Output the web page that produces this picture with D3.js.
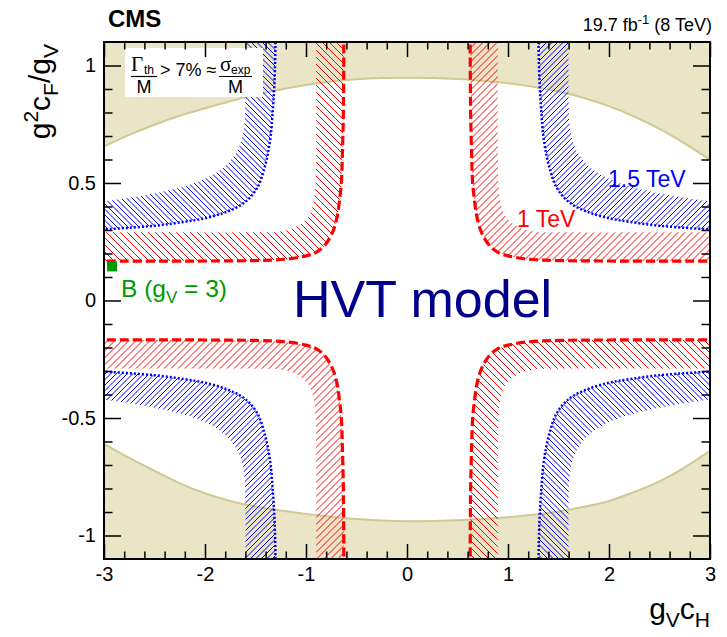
<!DOCTYPE html>
<html><head><meta charset="utf-8">
<script src="https://cdn.jsdelivr.net/npm/d3@7"></script>
<style>
body{margin:0;background:#fff}
svg{display:block}
text{font-family:"Liberation Sans",Arial,Helvetica,sans-serif}
</style>
</head><body><div id="chart"></div>
<script>
// ---------- data ----------
const xTicks=[-3,-2,-1,0,1,2,3];
const xTickLabels=["-3","-2","-1","0","1","2","3"];
const yTicks=[-1,-0.5,0,0.5,1];
const yTickLabels=["-1","-0.5","0","0.5","1"];

// Γ/M > 7% regions: boundary curves (gV cH, g^2 cF/gV)
const widthTop=[[-3.0,0.656],[-2.75,0.705],[-2.5,0.748],[-2.25,0.786],[-2.0,0.818],[-1.75,0.848],[-1.5,0.875],[-1.25,0.898],[-1.0,0.917],[-0.75,0.932],[-0.5,0.942],[-0.25,0.947],[0,0.948],[0.25,0.947],[0.5,0.943],[0.75,0.935],[1.0,0.924],[1.25,0.909],[1.5,0.889],[1.75,0.862],[2.0,0.827],[2.25,0.783],[2.5,0.73],[2.75,0.668],[3.0,0.60]];
const widthBottom=[[-3.0,-0.61],[-2.75,-0.67],[-2.5,-0.725],[-2.25,-0.778],[-2.0,-0.82],[-1.75,-0.853],[-1.5,-0.877],[-1.25,-0.894],[-1.0,-0.908],[-0.75,-0.92],[-0.5,-0.93],[-0.25,-0.936],[0,-0.939],[0.25,-0.938],[0.5,-0.935],[0.75,-0.93],[1.0,-0.922],[1.25,-0.912],[1.5,-0.898],[1.75,-0.878],[2.0,-0.853],[2.25,-0.815],[2.5,-0.77],[2.75,-0.71],[3.0,-0.64]];

// exclusion bands, given as |gV cH|, |g^2 cF/gV| (same in every quadrant)
const band1TeVInner=[[3.1,0.168],[2.0,0.168],[1.5,0.17],[1.2,0.176],[1.0,0.19],[0.9,0.205],[0.82,0.232],[0.76,0.27],[0.72,0.31],[0.69,0.36],[0.67,0.42],[0.65,0.5],[0.64,0.62],[0.63,0.8],[0.625,1.15]];
const band1TeVOuter=[[3.1,0.29],[1.5,0.29],[1.3,0.292],[1.18,0.30],[1.08,0.318],[1.0,0.345],[0.95,0.38],[0.92,0.43],[0.905,0.5],[0.9,0.6],[0.9,1.15]];
const band15TeVInner=[[3.1,0.30],[2.5,0.318],[2.2,0.335],[2.0,0.35],[1.8,0.375],[1.65,0.405],[1.55,0.44],[1.47,0.49],[1.42,0.55],[1.38,0.62],[1.35,0.7],[1.33,0.8],[1.31,0.95],[1.30,1.15]];
const band15TeVOuter=[[3.1,0.415],[2.7,0.44],[2.4,0.465],[2.1,0.5],[1.9,0.54],[1.78,0.58],[1.69,0.63],[1.64,0.68],[1.61,0.75],[1.6,0.85],[1.6,1.15]];
const quadrants=[[-1,1],[1,1],[-1,-1],[1,-1]];
const pointB=[-2.92,0.145];

// ---------- setup ----------
const W=727,H=637;
const X0=104,X1=710,Y0=42,Y1=559;
const x=d3.scaleLinear().domain([-3,3]).range([X0,X1]);
const y=d3.scaleLinear().domain([-1.1,1.1]).range([Y1,Y0]);

const svg=d3.select("#chart").append("svg").attr("width",W).attr("height",H);
const defs=svg.append("defs");
defs.append("clipPath").attr("id","clip").append("rect")
  .attr("x",X0).attr("y",Y0).attr("width",X1-X0).attr("height",Y1-Y0);

const plot=svg.append("g").attr("clip-path","url(#clip)");
const line=d3.line().x(d=>x(d[0])).y(d=>y(d[1])).curve(d3.curveCatmullRom.alpha(0.5));

// khaki regions
const khaki="#e9e5c6";
plot.append("path").attr("d",line(widthTop)+"L"+x(3)+","+y(1.2)+"L"+x(-3)+","+y(1.2)+"Z").attr("fill",khaki);
plot.append("path").attr("d",line(widthBottom)+"L"+x(3)+","+y(-1.2)+"L"+x(-3)+","+y(-1.2)+"Z").attr("fill",khaki);
plot.append("path").attr("d",line(widthTop)).attr("fill","none").attr("stroke","#d0c994").attr("stroke-width",2);
plot.append("path").attr("d",line(widthBottom)).attr("fill","none").attr("stroke","#d0c994").attr("stroke-width",2);

// bands: hatched area between inner and outer contour, clipped explicit hatch lines
let clipId=0;
function drawBand(inner,outer,color,step,dash,w){
  quadrants.forEach(([sx,sy])=>{
    const inn=inner.map(p=>[sx*p[0],sy*p[1]]);
    const out=outer.map(p=>[sx*p[0],sy*p[1]]).reverse();
    const d=line(inn)+"L"+line(out).slice(1)+"Z";
    const id="band"+(clipId++);
    defs.append("clipPath").attr("id",id).append("path").attr("d",d);
    const pts=inn.concat(out).map(p=>[x(p[0]),y(p[1])]);
    const bx0=d3.min(pts,p=>p[0])-2,bx1=d3.max(pts,p=>p[0])+2;
    const by0=d3.min(pts,p=>p[1])-2,by1=d3.max(pts,p=>p[1])+2;
    const g=plot.append("g").attr("clip-path",`url(#${id})`);
    let path="";
    if(sx*sy>0){ // "/" lines: x+y=k
      const k0=Math.floor((bx0+by0)/step)*step+0.5;
      for(let k=k0;k<=bx1+by1;k+=step) path+=`M${k-by1},${by1}L${k-by0},${by0}`;
    } else {     // "\" lines: x-y=k
      const k0=Math.floor((bx0-by1)/step)*step;
      for(let k=k0;k<=bx1-by0;k+=step) path+=`M${k+by0},${by0}L${k+by1},${by1}`;
    }
    g.append("path").attr("d",path).attr("stroke",color).attr("stroke-width",1).attr("fill","none");
  });
  quadrants.forEach(([sx,sy])=>{
    const inn=inner.map(p=>[sx*p[0],sy*p[1]]);
    plot.append("path").attr("d",line(inn)).attr("fill","none")
      .attr("stroke",color).attr("stroke-width",w).attr("stroke-dasharray",dash);
  });
}
drawBand(band15TeVInner,band15TeVOuter,"#0000ff",5.5,"2,2",2.5);
drawBand(band1TeVInner,band1TeVOuter,"#ff0000",7,"9,4",3.2);

// benchmark B
svg.append("rect").attr("x",x(pointB[0])-5).attr("y",y(pointB[1])-5).attr("width",10).attr("height",10).attr("fill","#009a00");

// ---------- labels ----------
svg.append("text").attr("x",608).attr("y",187).attr("fill","#0000ff").style("font-size","23px").text("1.5 TeV");
svg.append("text").attr("x",517).attr("y",227).attr("fill","#ff0000").style("font-size","23px").text("1 TeV");
const bl=svg.append("text").attr("x",121).attr("y",297).attr("fill","#009a00").style("font-size","24.5px");
bl.append("tspan").text("B (g");
bl.append("tspan").attr("dy",6).style("font-size","17px").text("V");
bl.append("tspan").attr("dy",-6).text(" = 3)");
svg.append("text").attr("x",293).attr("y",317).attr("fill","#00008b").style("font-size","52px").text("HVT model");

// legend box
svg.append("rect").attr("x",125).attr("y",48).attr("width",138).attr("height",49).attr("fill","#fff");
const lg=svg.append("g");
lg.append("text").attr("x",131).attr("y",71).style("font-family","'Liberation Serif',serif").style("font-size","21px").text("Γ");
lg.append("text").attr("x",144).attr("y",74).style("font-size","12px").text("th");
lg.append("line").attr("x1",131).attr("x2",157).attr("y1",76.5).attr("y2",76.5).attr("stroke","#000").attr("stroke-width",1.2);
lg.append("text").attr("x",144).attr("y",93).attr("text-anchor","middle").style("font-size","18px").text("M");
lg.append("text").attr("x",160).attr("y",76).style("font-size","18px").text("> 7% ≈");
lg.append("text").attr("x",220).attr("y",71).style("font-family","'Liberation Serif',serif").style("font-size","21px").text("σ");
lg.append("text").attr("x",231).attr("y",74).style("font-size","12px").text("exp");
lg.append("line").attr("x1",219).attr("x2",252).attr("y1",76.5).attr("y2",76.5).attr("stroke","#000").attr("stroke-width",1.2);
lg.append("text").attr("x",235.5).attr("y",93).attr("text-anchor","middle").style("font-size","18px").text("M");

// ---------- axes ----------
function style(g){
  g.select(".domain").remove();
  g.selectAll("line").attr("stroke","#000").attr("stroke-width",1.5);
  g.selectAll("text").attr("fill","#000").style("font-size","20px").style("font-family","'Liberation Sans',Arial,sans-serif");
}
const xMinor=x.ticks(30).filter(v=>Math.abs(v-Math.round(v))>1e-6);
const yMinor=y.ticks(22).filter(v=>Math.abs(v*2-Math.round(v*2))>1e-6 && Math.abs(v)<1.09);

svg.append("g").attr("transform",`translate(0,${Y1})`)
  .call(d3.axisBottom(x).tickValues(xTicks).tickFormat((d,i)=>xTickLabels[i]).tickSize(-15).tickPadding(8)).call(style);
svg.append("g").attr("transform",`translate(0,${Y1})`)
  .call(d3.axisBottom(x).tickValues(xMinor).tickFormat("").tickSize(-7.5)).call(style);
svg.append("g").attr("transform",`translate(0,${Y0})`)
  .call(d3.axisTop(x).tickValues(xTicks).tickFormat("").tickSize(-15)).call(style);
svg.append("g").attr("transform",`translate(0,${Y0})`)
  .call(d3.axisTop(x).tickValues(xMinor).tickFormat("").tickSize(-7.5)).call(style);

svg.append("g").attr("transform",`translate(${X0},0)`)
  .call(d3.axisLeft(y).tickValues(yTicks).tickFormat((d,i)=>yTickLabels[i]).tickSize(-17).tickPadding(8)).call(style);
svg.append("g").attr("transform",`translate(${X0},0)`)
  .call(d3.axisLeft(y).tickValues(yMinor).tickFormat("").tickSize(-8.5)).call(style);
svg.append("g").attr("transform",`translate(${X1},0)`)
  .call(d3.axisRight(y).tickValues(yTicks).tickFormat("").tickSize(-17)).call(style);
svg.append("g").attr("transform",`translate(${X1},0)`)
  .call(d3.axisRight(y).tickValues(yMinor).tickFormat("").tickSize(-8.5)).call(style);

svg.append("rect").attr("x",X0).attr("y",Y0).attr("width",X1-X0).attr("height",Y1-Y0)
  .attr("fill","none").attr("stroke","#000").attr("stroke-width",2);

// titles
const xt=svg.append("text").attr("x",710).attr("y",619).attr("text-anchor","end").style("font-size","30px");
xt.append("tspan").text("g");
xt.append("tspan").attr("dy",8).style("font-size","21px").text("V");
xt.append("tspan").attr("dy",-8).text("c");
xt.append("tspan").attr("dy",8).style("font-size","21px").text("H");

const yt=svg.append("text").attr("transform","translate(50,44) rotate(-90)").attr("text-anchor","end").style("font-size","30px");
yt.append("tspan").text("g");
yt.append("tspan").attr("dy",-12).style("font-size","21px").text("2");
yt.append("tspan").attr("dy",12).text("c");
yt.append("tspan").attr("dy",8).style("font-size","21px").text("F");
yt.append("tspan").attr("dy",-8).text("/g");
yt.append("tspan").attr("dy",8).style("font-size","21px").text("V");

svg.append("text").attr("x",108).attr("y",27).style("font-size","24px").style("font-weight","bold").text("CMS");
const lu=svg.append("text").attr("x",712).attr("y",31).attr("text-anchor","end").style("font-size","18px");
lu.append("tspan").text("19.7 fb");
lu.append("tspan").attr("dy",-7).style("font-size","13px").text("-1");
lu.append("tspan").attr("dy",7).text(" (8 TeV)");
</script>
</body></html>
